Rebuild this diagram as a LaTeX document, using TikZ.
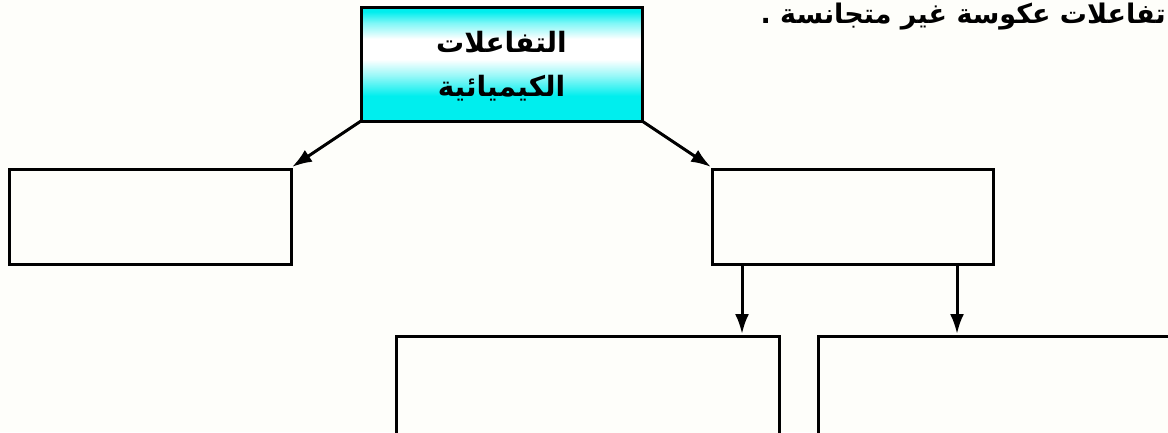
\documentclass[tikz,border=0pt]{standalone}
\usepackage{fontspec}
\usetikzlibrary{arrows.meta}
\newfontfamily\arabicfont[Script=Arabic]{DejaVu Sans}
\TeXXeTstate=1
\definecolor{paper}{RGB}{254,254,250}
\definecolor{aqua}{RGB}{0,238,238}
% vertical band: aqua at both edges, white a little above the middle
\pgfdeclareverticalshading{aquaband}{100bp}{
  color(0bp)=(aqua); color(25bp)=(aqua); color(36bp)=(aqua);
  color(45bp)=(aqua!40!white); color(52bp)=(white); color(61bp)=(white);
  color(68bp)=(aqua!50!white); color(73bp)=(aqua); color(100bp)=(aqua)}
\tikzset{
  box/.style={draw=black, line width=3pt, fill=paper},
  link/.style={draw=black, line width=3pt, -{Latex[length=20pt,width=14pt]}},
  heading/.style={font=\arabicfont\bfseries\fontsize{27}{34}\selectfont},
  label/.style={font=\arabicfont\bfseries\fontsize{28}{44}\selectfont, align=center}
}
\begin{document}
\begin{tikzpicture}[x=1pt,y=-1pt]
  \useasboundingbox (0,0) rectangle (1168,432);
  \fill[paper] (0,0) rectangle (1168,432);

  % heading line, partly above the page edge
  \node[heading, anchor=base east, inner sep=0pt] (title) at (1166,23)
    {\beginR تفاعلات عكوسة غير متجانسة .\endR};

  % root node with its shaded fill
  \path[shading=aquaband, draw=black, line width=3pt] (361,7) rectangle (642,121);
  \node[label] (root) at (501.5,66) {\beginR التفاعلات\endR\\\beginR الكيميائية\endR};
  \coordinate (rootSW) at (361,121);
  \coordinate (rootSE) at (642,121);

  % empty boxes
  \draw[box] (9,169) rectangle (291,264);
  \coordinate (leftNE) at (292,167);
  \draw[box] (712,169) rectangle (993,264);
  \coordinate (rightNW) at (711,167);
  \coordinate (rightA) at (742,264);
  \coordinate (rightB) at (957,264);
  \draw[box] (396,336) rectangle (779,440);
  \coordinate (lowA) at (742,334);
  \draw[box] (818,336) rectangle (1175,440);
  \coordinate (lowB) at (957,334);

  % connectors
  \draw[link] (rootSW) -- (leftNE);
  \draw[link] (rootSE) -- (rightNW);
  \draw[link] (rightA) -- (lowA);
  \draw[link] (rightB) -- (lowB);
\end{tikzpicture}
\end{document}
